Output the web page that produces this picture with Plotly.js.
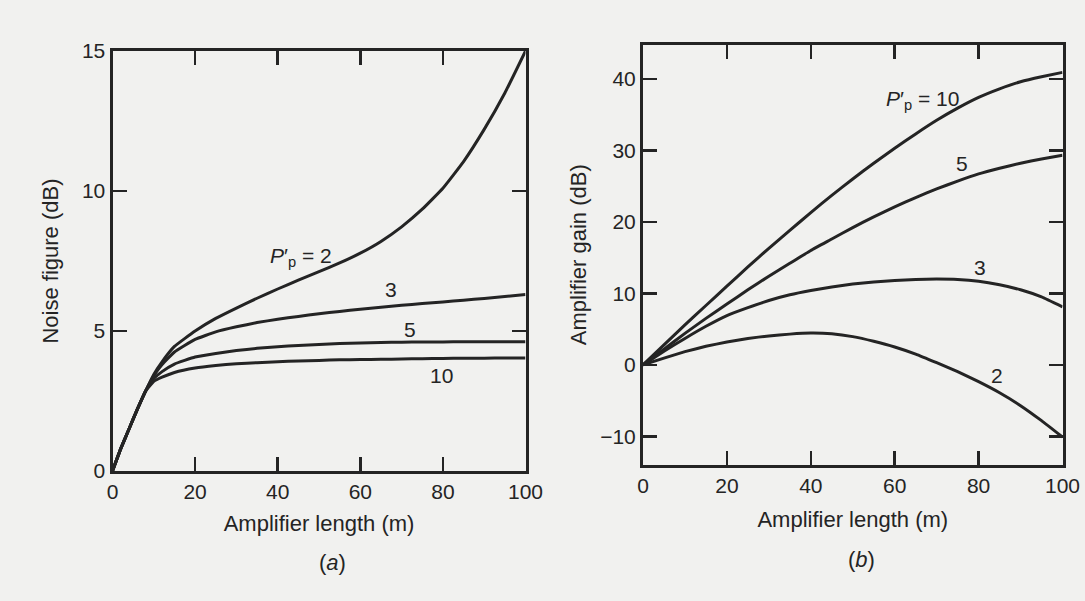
<!DOCTYPE html>
<html>
<head>
<meta charset="utf-8">
<script src="https://cdn.plot.ly/plotly-3.0.1.min.js"></script>
<style>
  html, body { margin: 0; padding: 0; background: #f1f1ef; }
  #chart { width: 1085px; height: 601px; }
</style>
</head>
<body>
<div id="chart"></div>
<script>
// (a) Noise figure (dB) vs amplifier length (m)
const lengthA  = [0, 2, 4, 6, 8, 10, 12, 15, 20, 25, 30, 35, 40, 45, 50, 55, 60, 65, 70, 75, 80, 85, 90, 95, 100];
const noiseP2  = [0, 0.8, 1.5, 2.2, 2.85, 3.45, 3.9, 4.45, 5.0, 5.45, 5.82, 6.17, 6.5, 6.82, 7.12, 7.43, 7.78, 8.2, 8.72, 9.35, 10.1, 11.05, 12.2, 13.5, 15.0];
const noiseP3  = [0, 0.8, 1.5, 2.2, 2.85, 3.4, 3.8, 4.25, 4.7, 4.97, 5.15, 5.3, 5.42, 5.52, 5.62, 5.7, 5.78, 5.85, 5.92, 5.98, 6.04, 6.1, 6.16, 6.23, 6.3];
const noiseP5  = [0, 0.8, 1.5, 2.2, 2.85, 3.3, 3.55, 3.82, 4.07, 4.2, 4.3, 4.38, 4.44, 4.48, 4.52, 4.55, 4.57, 4.59, 4.6, 4.61, 4.61, 4.62, 4.62, 4.62, 4.62];
const noiseP10 = [0, 0.8, 1.5, 2.2, 2.85, 3.2, 3.35, 3.52, 3.68, 3.77, 3.83, 3.87, 3.9, 3.93, 3.95, 3.97, 3.98, 3.99, 4.0, 4.01, 4.02, 4.03, 4.03, 4.04, 4.04];

// (b) Amplifier gain (dB) vs amplifier length (m)
const lengthB = [0, 5, 10, 15, 20, 25, 30, 35, 40, 45, 50, 55, 60, 65, 70, 75, 80, 85, 90, 95, 100];
const gainP10 = [0, 2.8, 5.6, 8.3, 11.0, 13.7, 16.3, 18.8, 21.3, 23.7, 26.0, 28.2, 30.3, 32.3, 34.2, 35.9, 37.4, 38.6, 39.6, 40.3, 40.9];
const gainP5  = [0, 2.2, 4.4, 6.5, 8.5, 10.5, 12.4, 14.2, 16.0, 17.6, 19.2, 20.7, 22.1, 23.4, 24.6, 25.7, 26.7, 27.5, 28.2, 28.8, 29.3];
const gainP3  = [0, 1.9, 3.7, 5.4, 6.9, 8.0, 9.0, 9.8, 10.4, 10.9, 11.3, 11.6, 11.8, 11.95, 12.0, 11.95, 11.7, 11.2, 10.5, 9.5, 8.1];
const gainP2  = [0, 0.95, 1.85, 2.6, 3.2, 3.7, 4.05, 4.3, 4.45, 4.35, 3.95, 3.3, 2.5, 1.5, 0.3, -0.95, -2.35, -3.9, -5.7, -7.8, -10.1];

// Curve labels
const labelsA = [
  {text: '<i>P</i>′<sub>p</sub> = 2', x: 45.7, y: 7.65},
  {text: '3', x: 67.4, y: 6.5},
  {text: '5', x: 72.1, y: 5.05},
  {text: '10', x: 79.7, y: 3.42}
];
const labelsB = [
  {text: '<i>P</i>′<sub>p</sub> = 10', x: 66.6, y: 37.0},
  {text: '5', x: 76.0, y: 28.1},
  {text: '3', x: 80.4, y: 13.6},
  {text: '2', x: 84.4, y: -1.5}
];

const INK = '#242424';
const FONT = 'Liberation Sans, Arial, sans-serif';

function curve(x, y, xa, ya) {
  return {x: x, y: y, xaxis: xa, yaxis: ya, type: 'scatter', mode: 'lines',
          line: {color: INK, width: 3, shape: 'spline', smoothing: 0.35},
          showlegend: false, hoverinfo: 'skip'};
}

const data = [
  curve(lengthA, noiseP2, 'x', 'y'),
  curve(lengthA, noiseP3, 'x', 'y'),
  curve(lengthA, noiseP5, 'x', 'y'),
  curve(lengthA, noiseP10, 'x', 'y'),
  curve(lengthB, gainP10, 'x2', 'y2'),
  curve(lengthB, gainP5, 'x2', 'y2'),
  curve(lengthB, gainP3, 'x2', 'y2'),
  curve(lengthB, gainP2, 'x2', 'y2')
];

const axisCommon = {
  showgrid: false, zeroline: false, showline: true, linecolor: INK, linewidth: 3,
  mirror: 'ticks', ticks: 'inside', ticklen: 14, tickwidth: 2.5, tickcolor: INK,
  tickfont: {family: FONT, size: 21, color: INK}, fixedrange: true
};
const titleFont = {family: FONT, size: 22, color: INK};
const labelFont = {family: FONT, size: 21, color: INK};

const annotations = [];
labelsA.forEach(l => annotations.push({x: l.x, y: l.y, xref: 'x', yref: 'y', text: l.text,
  xanchor: 'center', yanchor: 'middle', showarrow: false, font: labelFont}));
labelsB.forEach(l => annotations.push({x: l.x, y: l.y, xref: 'x2', yref: 'y2', text: l.text,
  xanchor: 'center', yanchor: 'middle', showarrow: false, font: labelFont}));
annotations.push({xref: 'paper', yref: 'paper', x: 332 / 1085, y: (601 - 562) / 601, text: '(<i>a</i>)',
  xanchor: 'center', yanchor: 'middle', showarrow: false, font: titleFont});
annotations.push({xref: 'paper', yref: 'paper', x: 861 / 1085, y: (601 - 559) / 601, text: '(<i>b</i>)',
  xanchor: 'center', yanchor: 'middle', showarrow: false, font: titleFont});

const layout = {
  width: 1085, height: 601,
  margin: {l: 0, r: 0, t: 0, b: 0},
  paper_bgcolor: '#f1f1ef', plot_bgcolor: '#f1f1ef',
  font: {family: FONT, color: INK},
  showlegend: false,
  xaxis: Object.assign({}, axisCommon, {
    domain: [112.5 / 1085, 525.5 / 1085], range: [0, 100],
    tickvals: [0, 20, 40, 60, 80, 100],
    title: {text: 'Amplifier length (m)', font: titleFont, standoff: 14},
    anchor: 'y'
  }),
  yaxis: Object.assign({}, axisCommon, {
    domain: [(601 - 471) / 601, (601 - 51) / 601], range: [0, 15],
    tickvals: [0, 5, 10, 15],
    title: {text: 'Noise figure (dB)', font: titleFont, standoff: 18},
    anchor: 'x'
  }),
  xaxis2: Object.assign({}, axisCommon, {
    domain: [643 / 1085, 1062.5 / 1085], range: [0, 100],
    tickvals: [0, 20, 40, 60, 80, 100],
    title: {text: 'Amplifier length (m)', font: titleFont, standoff: 16},
    anchor: 'y2'
  }),
  yaxis2: Object.assign({}, axisCommon, {
    domain: [(601 - 465) / 601, (601 - 44.5) / 601], range: [-14, 44.8],
    tickvals: [-10, 0, 10, 20, 30, 40],
    ticktext: ['−10', '0', '10', '20', '30', '40'],
    title: {text: 'Amplifier gain (dB)', font: titleFont, standoff: 8},
    anchor: 'x2'
  }),
  annotations: annotations
};

Plotly.newPlot('chart', data, layout, {displayModeBar: false, staticPlot: true});
</script>
</body>
</html>
